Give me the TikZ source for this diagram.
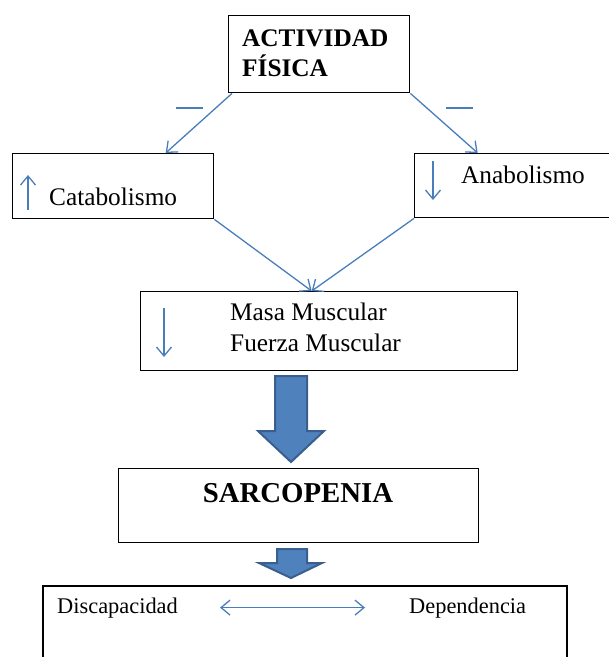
\documentclass[tikz,border=0pt]{standalone}
\usepackage{fontspec}
\setmainfont{Liberation Serif}
\usetikzlibrary{arrows.meta,calc}
\definecolor{lineblue}{HTML}{4A7EBB}
\definecolor{fillblue}{HTML}{4F81BD}
\definecolor{edgeblue}{HTML}{3A5F8E}
\tikzset{
  boxnode/.style={draw=black, line width=1.4pt, anchor=north west, inner sep=0pt},
  tipv/.tip={Straight Barb[length=9pt,width=15pt,line width=1.3pt]},
  conn/.style={draw=lineblue, line width=1.3pt, -tipv},
  conntwo/.style={draw=lineblue, line width=1.3pt, tipv-tipv},
  txt/.style={anchor=base west, inner sep=0pt, font=\fontsize{25.3}{30}\selectfont},
  btxt/.style={anchor=base west, inner sep=0pt, font=\fontsize{25.3}{30}\selectfont\bfseries},
  smalltxt/.style={anchor=base west, inner sep=0pt, font=\fontsize{22.4}{27}\selectfont},
  blockarrow/.style={fill=fillblue, draw=edgeblue, line width=2pt, line join=miter},
  minusmark/.style={draw=lineblue, line width=1.3pt}
}
\begin{document}
\begin{tikzpicture}[x=1pt,y=-1pt]
\useasboundingbox (0,0) rectangle (609,657);
% boxes
\node[boxnode, minimum width=181pt, minimum height=77pt] (top) at (228,15) {};
\node[boxnode, minimum width=201pt, minimum height=65pt] (cat) at (12,153) {};
\node[boxnode, minimum width=197pt, minimum height=64pt] (anab) at (414,153) {};
\node[boxnode, minimum width=377pt, minimum height=79pt] (masa) at (140,291) {};
\node[boxnode, minimum width=360pt, minimum height=74pt] (sarc) at (118,468) {};
% bottom open box
\coordinate (bl) at (43,660);
\coordinate (br) at (567,660);
\draw[black, line width=1.4pt] (bl) -- (43,586) -- (567,586) -- (br);
% texts
\node[btxt] (t1) at (242,46) {ACTIVIDAD};
\node[btxt] (t2) at (242,76) {FÍSICA};
\node[txt] (tcat) at (49,205) {Catabolismo};
\node[txt] (tanab) at (461,183) {Anabolismo};
\node[txt] (tmasa) at (230,320) {Masa Muscular};
\node[txt] (tfuer) at (230,351) {Fuerza Muscular};
\node[anchor=base, inner sep=0pt, font=\fontsize{28.8}{34}\selectfont\bfseries] (tsarc) at (298,502) {SARCOPENIA};
\node[smalltxt] (tdis) at (57,613) {Discapacidad};
\node[smalltxt] (tdep) at (409,613) {Dependencia};
% connectors
\draw[conn] ([xshift=4pt]top.south west) -- ([xshift=52.5pt]cat.north);
\draw[conn] (top.south east) -- ([xshift=-35.5pt]anab.north);
\draw[conn] (cat.south east) -- ([xshift=-17.5pt]masa.north);
\draw[conn] (anab.south west) -- ([xshift=-17.5pt]masa.north);
% minus marks
\coordinate (m1a) at (176,108); \coordinate (m1b) at (203,108);
\coordinate (m2a) at (446,108); \coordinate (m2b) at (473,108);
\draw[minusmark] (m1a) -- (m1b);
\draw[minusmark] (m2a) -- (m2b);
% small indicator arrows
\coordinate (ua) at (28,210); \coordinate (ub) at (28,175);
\draw[conn] (ua) -- (ub);
\coordinate (da) at (433,161); \coordinate (db) at (433,200);
\draw[conn] (da) -- (db);
\coordinate (ma) at (164,308); \coordinate (mb) at (164,357);
\draw[conn] (ma) -- (mb);
% double arrow
\draw[conntwo] ([xshift=42pt]tdis.east) -- ([xshift=-44pt]tdep.west);
% block arrows
\draw[blockarrow] (275,376) -- (307,376) -- (307,431) -- (324,431) -- (291,462) -- (258,431) -- (275,431) -- cycle;
\draw[blockarrow] (277,549) -- (307,549) -- (307,563) -- (322,563) -- (291,578) -- (259,563) -- (277,563) -- cycle;
\end{tikzpicture}
\end{document}
